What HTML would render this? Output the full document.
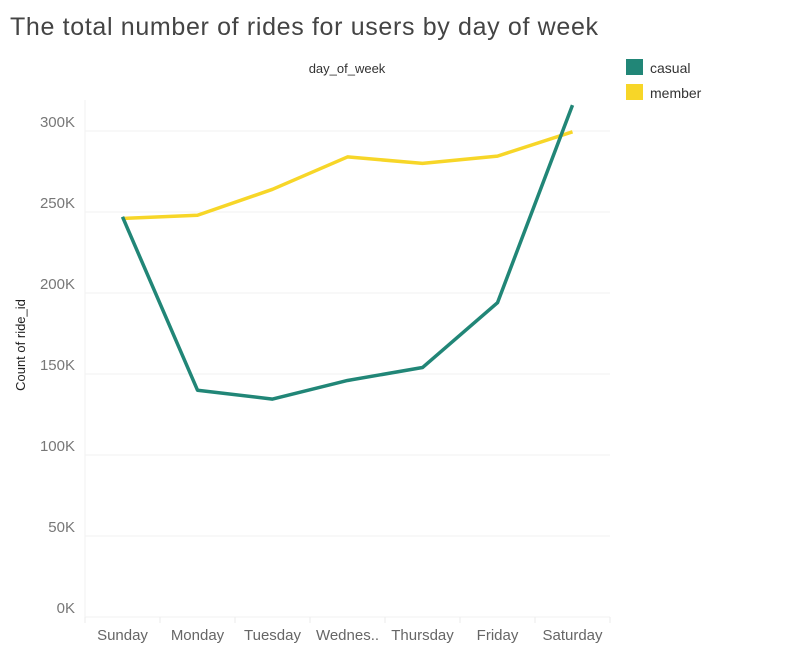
<!DOCTYPE html>
<html><head><meta charset="utf-8"><style>
body{margin:0;background:#fff;width:798px;height:645px;overflow:hidden;font-family:"Liberation Sans",sans-serif}
svg text{font-family:"Liberation Sans",sans-serif}
</style></head><body>
<svg id="chart" width="798" height="645" xmlns="http://www.w3.org/2000/svg">
<text x="10" y="35" font-size="25" fill="#444" textLength="588" lengthAdjust="spacing">The total number of rides for users by day of week</text>
<text x="347" y="73" font-size="13" fill="#333" text-anchor="middle">day_of_week</text>
<text transform="translate(25,345) rotate(-90)" font-size="13" fill="#222" text-anchor="middle">Count of ride_id</text>
<g id="grid"></g><g id="lines"></g>
<g>
<rect x="626" y="59" width="17" height="16" fill="#218677"/>
<text x="650" y="73" font-size="14" fill="#333">casual</text>
<rect x="626" y="84" width="17" height="16" fill="#f7d628"/>
<text x="650" y="98" font-size="14" fill="#333">member</text>
</g>
</svg>
<script>
const categories=["Sunday","Monday","Tuesday","Wednes..","Thursday","Friday","Saturday"];
const casual=[247,140,134.5,146,154,194,316];
const member=[246,248,264,284,280,284.5,299.5];
const yTicks=[0,50,100,150,200,250,300];
const NS="http://www.w3.org/2000/svg";
const x0=85,band=75,y0=617,yScale=81/50;
const xp=i=>x0+band*(i+0.5), yp=v=>y0-v*yScale;
const grid=document.getElementById('grid'),lines=document.getElementById('lines');
function mk(t,a,p){const e=document.createElementNS(NS,t);for(const k in a)e.setAttribute(k,a[k]);p.appendChild(e);return e;}
yTicks.forEach(v=>{
 const l=mk('line',{x1:x0,x2:610,y1:yp(v),y2:yp(v),stroke:'#f2f2f2','stroke-width':1},grid);
 
 
 const t=mk('text',{x:75,y:yp(v)-4,'font-size':15,fill:'#777','text-anchor':'end'},grid);
 t.textContent=v+'K';
 
 
});
const ax=mk('line',{x1:x0,x2:x0,y1:100,y2:617,stroke:'#f2f2f2'},grid);


categories.forEach((c,i)=>{
 const tk=mk('line',{x1:x0+band*i,x2:x0+band*i,y1:617,y2:623,stroke:'#ebebeb'},grid);
 
 
 const t=mk('text',{x:xp(i),y:640,'font-size':15,fill:'#666','text-anchor':'middle'},grid);
 t.textContent=c;
 
 
});
const tk=mk('line',{x1:x0+band*7,x2:x0+band*7,y1:617,y2:623,stroke:'#ebebeb'},grid);


function series(vals,color,name){
 const p=mk('polyline',{points:vals.map((v,i)=>xp(i)+','+yp(v)).join(' '),fill:'none',stroke:color,'stroke-width':3.5,'stroke-linejoin':'round'},lines);
 
 
}
series(member,'#f7d628','member-line');
series(casual,'#218677','casual-line');
</script>
</body></html>
